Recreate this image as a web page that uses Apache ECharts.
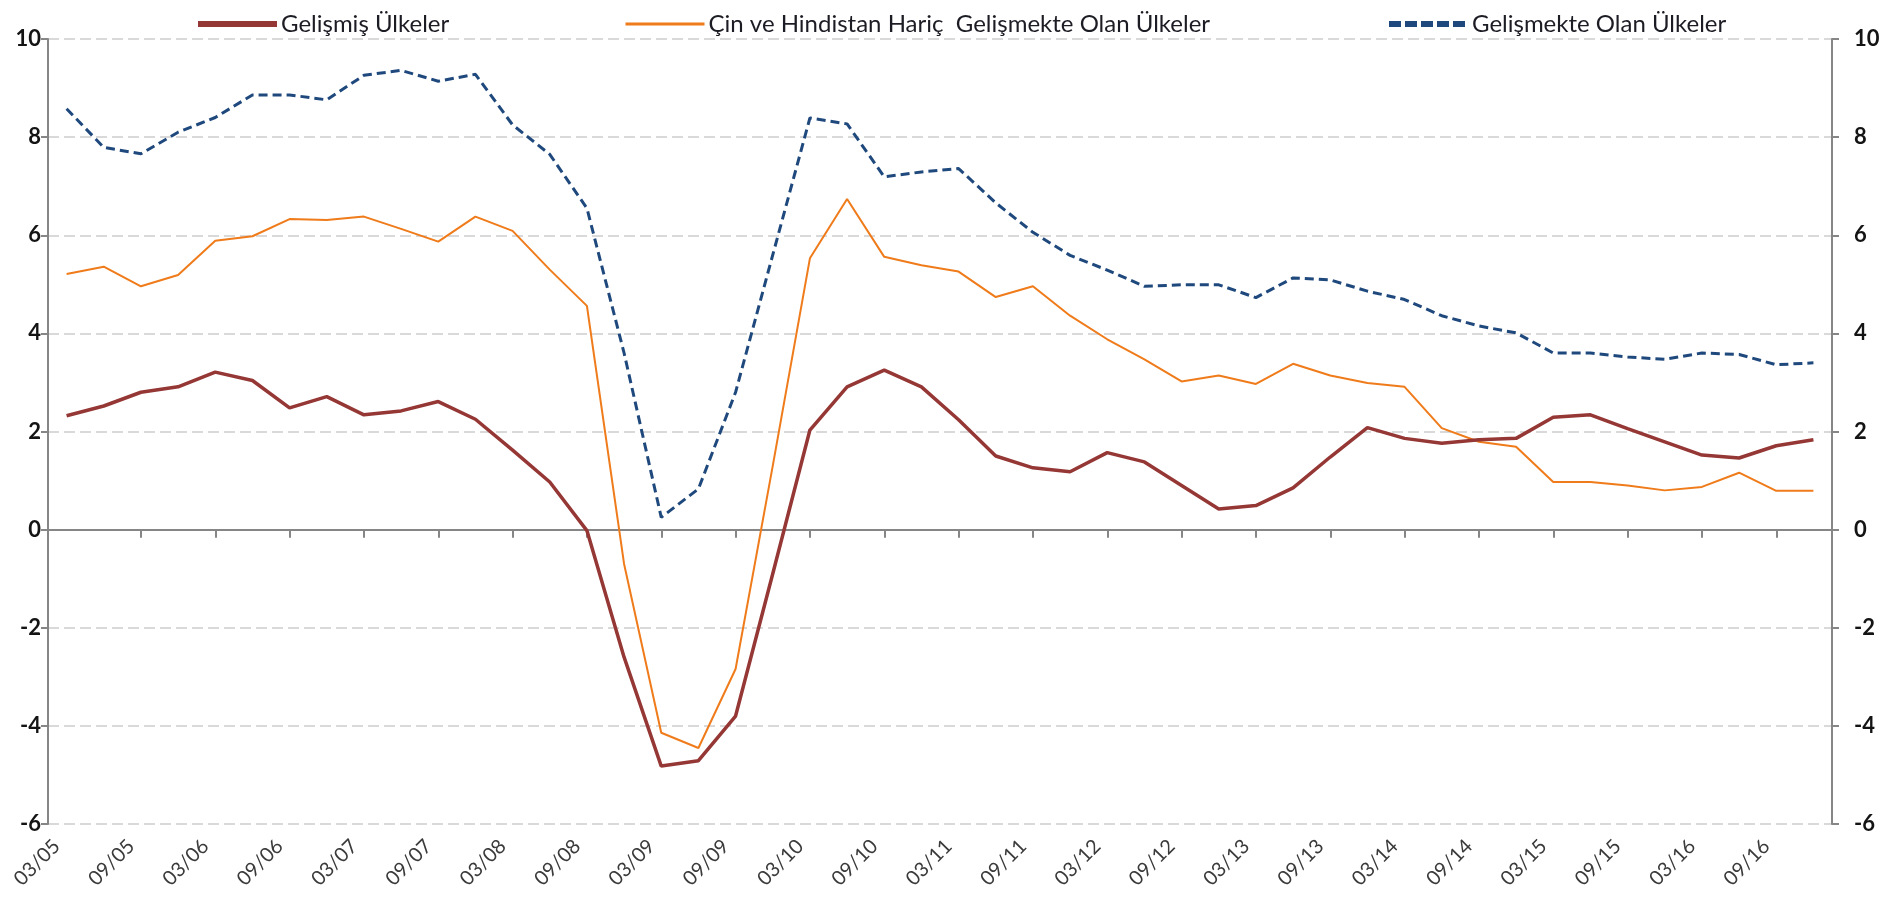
<!DOCTYPE html>
<html><head><meta charset="utf-8">
<script src="https://cdn.jsdelivr.net/npm/echarts@6/dist/echarts.min.js"></script>
<style>html,body{margin:0;padding:0;background:#fff}#c{width:1889px;height:909px}</style>
</head><body><div id="c"></div>
<script>
const categories = ['03/05','06/05','09/05','12/05','03/06','06/06','09/06','12/06','03/07','06/07','09/07','12/07',
  '03/08','06/08','09/08','12/08','03/09','06/09','09/09','12/09','03/10','06/10','09/10','12/10',
  '03/11','06/11','09/11','12/11','03/12','06/12','09/12','12/12','03/13','06/13','09/13','12/13',
  '03/14','06/14','09/14','12/14','03/15','06/15','09/15','12/15','03/16','06/16','09/16','12/16'];
const gelismis = [2.32,2.52,2.80,2.91,3.21,3.04,2.48,2.71,2.34,2.42,2.61,2.25,1.62,0.97,-0.02,-2.6,-4.82,-4.71,-3.80,-0.9,
  2.03,2.91,3.25,2.91,2.24,1.50,1.26,1.18,1.57,1.38,0.90,0.42,0.49,0.85,1.48,2.08,1.86,1.76,1.83,1.86,2.29,2.34,2.06,1.79,1.52,1.46,1.71,1.83];
const cinHindHaric = [5.21,5.36,4.96,5.19,5.89,5.98,6.33,6.31,6.38,6.13,5.87,6.38,6.09,5.3,4.56,-0.7,-4.14,-4.45,-2.84,1.3,
  5.53,6.74,5.56,5.39,5.26,4.74,4.96,4.36,3.88,3.47,3.02,3.14,2.97,3.38,3.14,2.99,2.91,2.07,1.79,1.69,0.97,0.97,0.90,0.80,0.87,1.16,0.79,0.79];
const gelismekte = [8.58,7.79,7.66,8.10,8.40,8.86,8.86,8.76,9.26,9.36,9.14,9.28,8.25,7.65,6.55,3.6,0.25,0.83,2.8,5.6,
  8.39,8.27,7.19,7.29,7.36,6.66,6.06,5.59,5.29,4.96,4.99,4.99,4.73,5.13,5.09,4.86,4.69,4.36,4.15,4.01,3.60,3.60,3.52,3.47,3.60,3.57,3.36,3.40];
const names = ['Gelişmiş Ülkeler','Çin ve Hindistan Hariç  Gelişmekte Olan Ülkeler','Gelişmekte Olan Ülkeler'];
const yMin = -6, yMax = 10, yStep = 2;

const FONT = 'Lato';
const axisGray = '#868686';
const colors = {brown: '#953735', orange: '#ef7b1a', navy: '#1f497d'};
const chart = echarts.init(document.getElementById('c'));
function yAxis(pos, grid) {
  return {
    type: 'value', position: pos, min: yMin, max: yMax, interval: yStep,
    axisLine: {show: true, onZero: false, lineStyle: {color: axisGray, width: 2}},
    axisTick: {show: true, length: 7, lineStyle: {color: axisGray, width: 2}},
    axisLabel: {color: '#141414', fontSize: 22, fontWeight: 'bold', fontFamily: FONT, margin: pos === 'left' ? 7 : 22},
    splitLine: {show: grid, lineStyle: {color: '#d9d9d9', width: 2, type: [11, 5]}}
  };
}
function legend(i, left, lw, dash) {
  return {data: [names[i]], left: left, top: 7, itemWidth: 79, itemHeight: 14, itemGap: 0,
    itemStyle: {opacity: 0},
    lineStyle: {width: lw, type: dash || 'solid'},
    textStyle: {fontSize: 24, fontFamily: FONT, color: '#1c1c24', padding: [0, 0, 0, -1]}};
}
chart.setOption({
  animation: false,
  backgroundColor: '#fff',
  legend: [legend(0, 190, 6), legend(1, 619, 3), legend(2, 1381, 6, [12, 4])],
  grid: {left: 48, right: 57, top: 39, bottom: 85, containLabel: false},
  xAxis: [
    {type: 'category', data: categories, boundaryGap: true, position: 'bottom',
     axisLine: {show: false, onZero: false}, axisTick: {show: false},
     axisLabel: {interval: 1, rotate: 45, margin: 9, fontSize: 20, fontFamily: FONT, color: '#3a3a3a',
       padding: [0, 14, 0, 0]}},
    {type: 'category', data: categories, boundaryGap: true, position: 'bottom',
     axisLine: {show: true, onZero: true, lineStyle: {color: axisGray, width: 2}},
     axisTick: {show: true, alignWithLabel: true, length: 8, interval: (idx) => idx % 2 === 0 && idx > 0,
       lineStyle: {color: axisGray, width: 2}},
     axisLabel: {show: false}}
  ],
  yAxis: [yAxis('left', true), yAxis('right', false)],
  series: [
    {name: names[2], type: 'line', data: gelismekte, symbol: 'none', xAxisIndex: 0, yAxisIndex: 0,
     lineStyle: {color: colors.navy, width: 3, type: [9, 5]}, itemStyle: {color: colors.navy}, z: 2},
    {name: names[1], type: 'line', data: cinHindHaric, symbol: 'none', xAxisIndex: 0, yAxisIndex: 0,
     lineStyle: {color: colors.orange, width: 2}, itemStyle: {color: colors.orange}, z: 3},
    {name: names[0], type: 'line', data: gelismis, symbol: 'none', xAxisIndex: 0, yAxisIndex: 0,
     lineStyle: {color: colors.brown, width: 3.5}, itemStyle: {color: colors.brown}, z: 4}
  ]
});
</script></body></html>
